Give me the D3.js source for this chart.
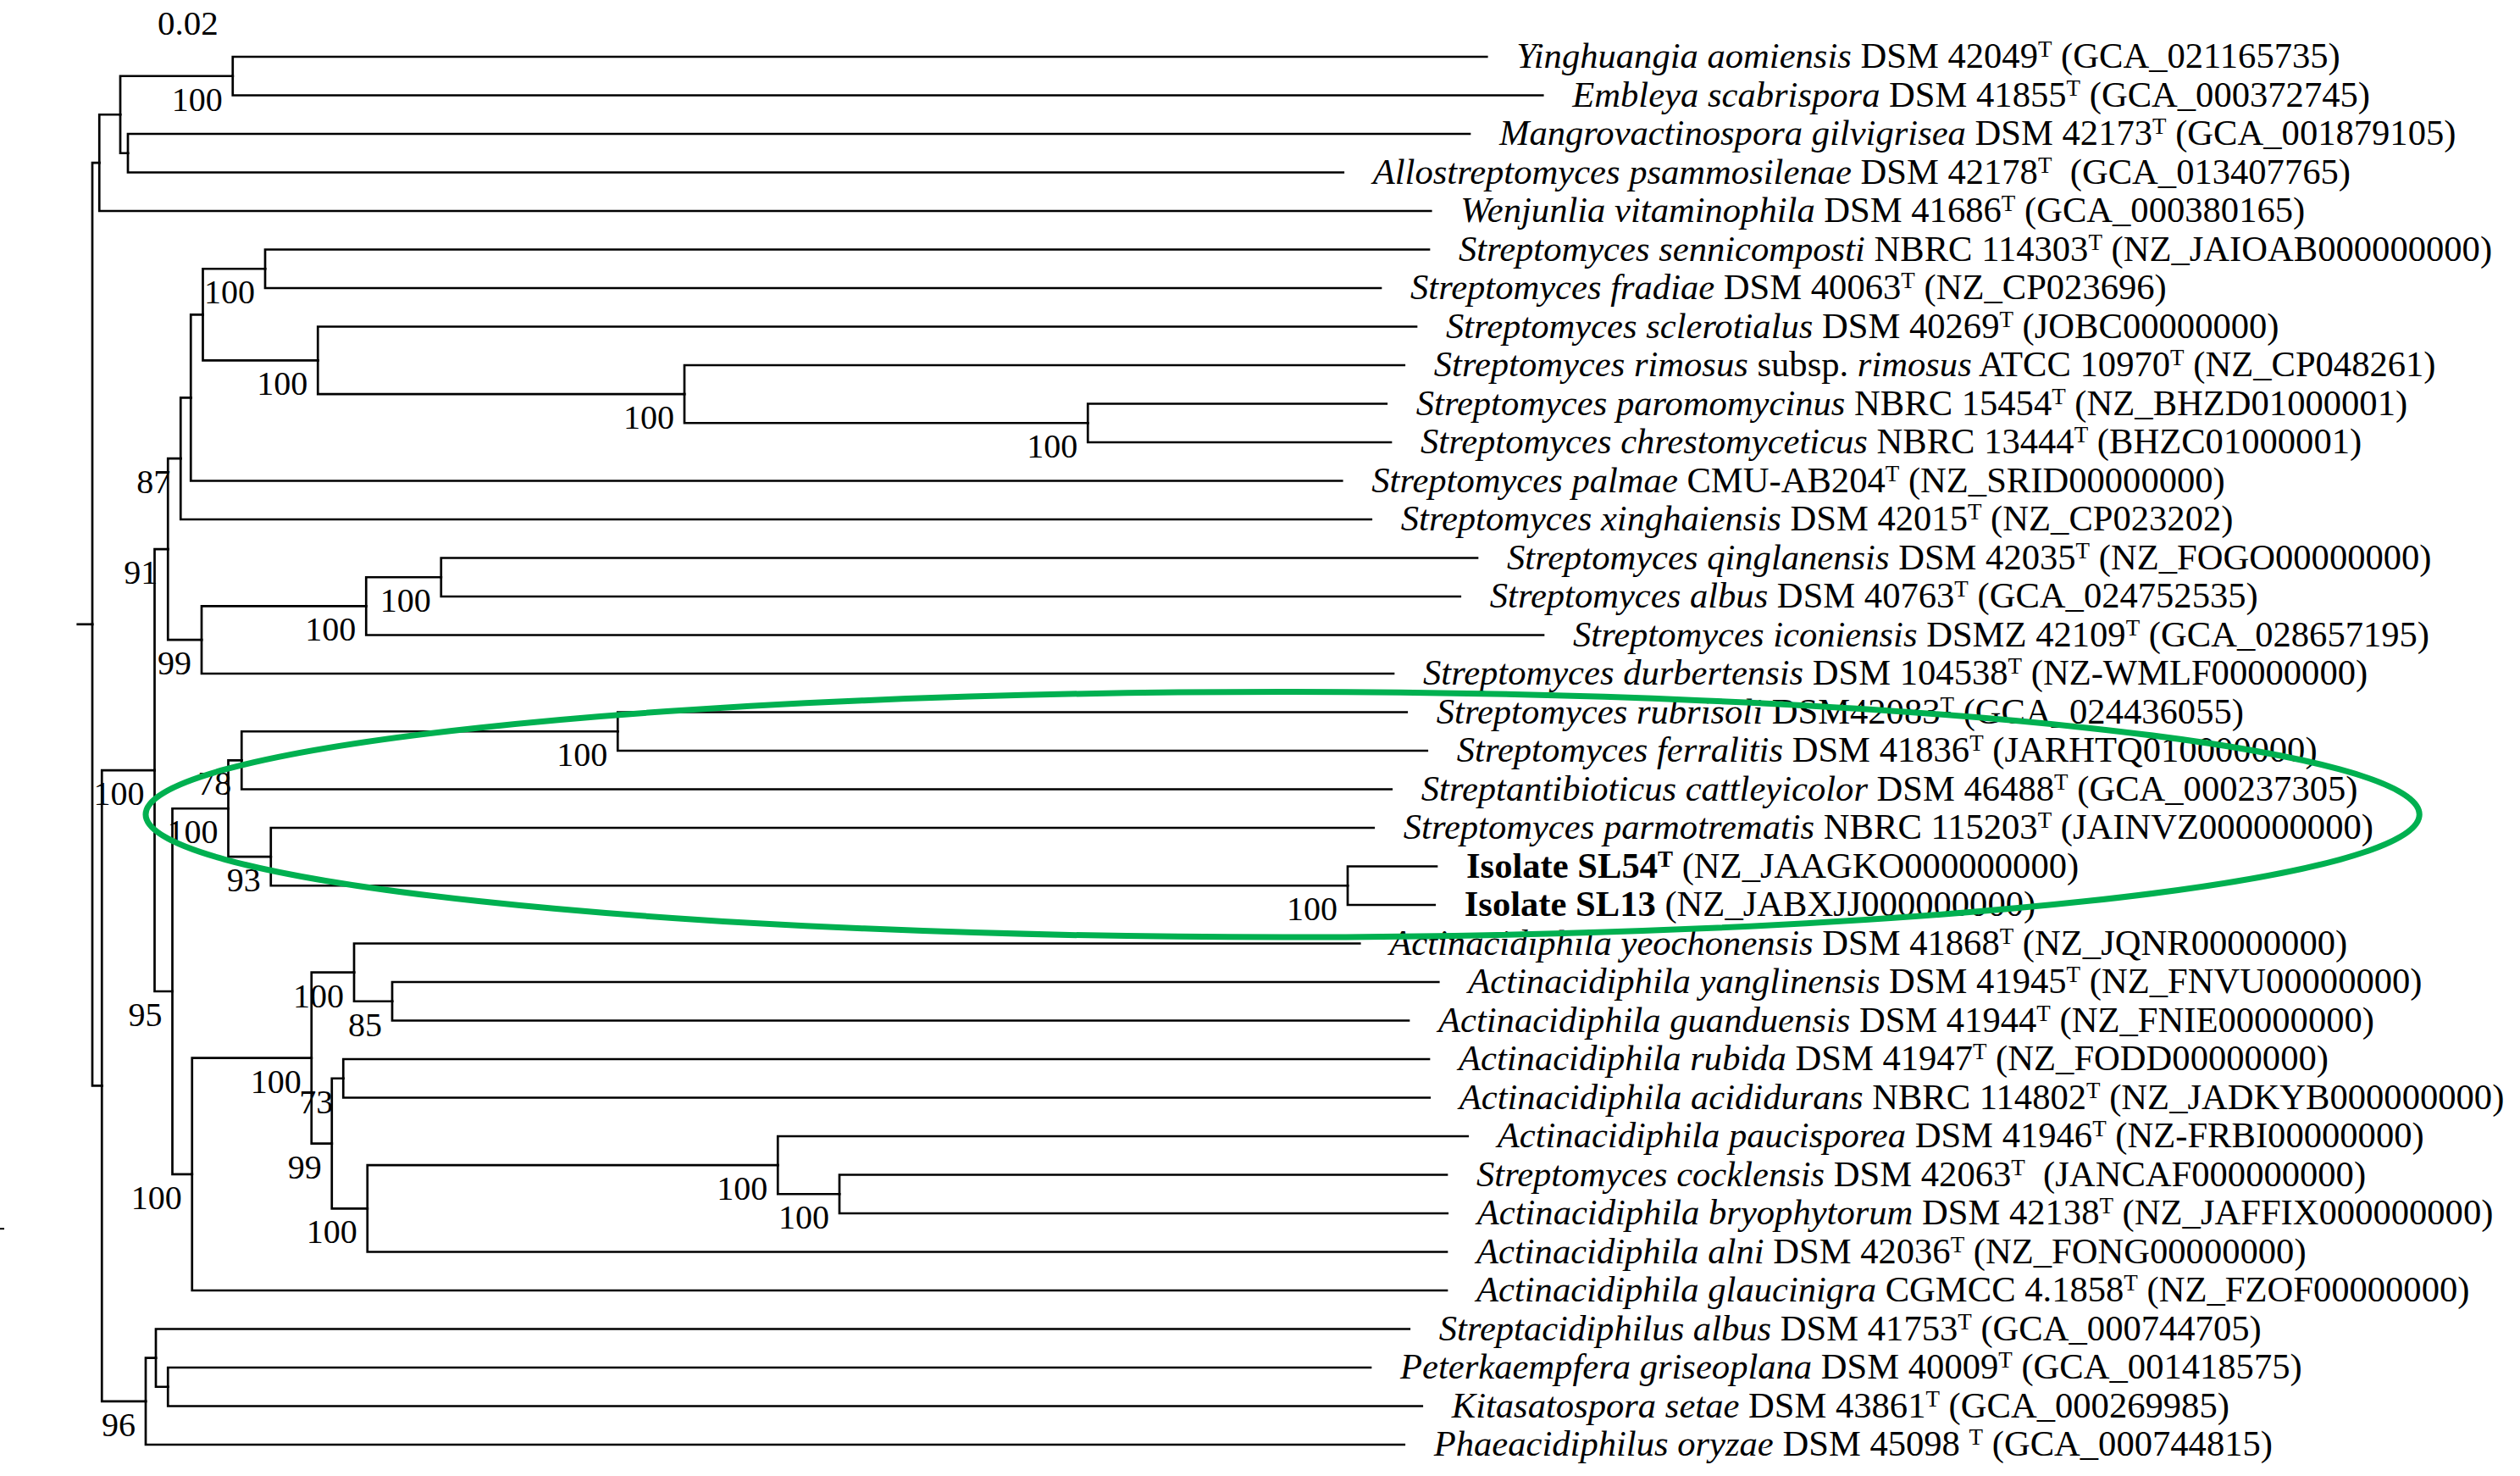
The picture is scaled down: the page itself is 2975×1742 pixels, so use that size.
<!DOCTYPE html>
<html>
<head>
<meta charset="utf-8">
<script src="https://cdn.jsdelivr.net/npm/d3@7"></script>
<style>
  html, body { margin: 0; padding: 0; background: #ffffff; }
</style>
</head>
<body>
<div id="chart"></div>
<script>
// tips, top to bottom
const tipNames = [
  'Yinghuangia aomiensis', 'Embleya scabrispora', 'Mangrovactinospora gilvigrisea',
  'Allostreptomyces psammosilenae', 'Wenjunlia vitaminophila', 'Streptomyces sennicomposti',
  'Streptomyces fradiae', 'Streptomyces sclerotialus', 'Streptomyces rimosus subsp. rimosus',
  'Streptomyces paromomycinus', 'Streptomyces chrestomyceticus', 'Streptomyces palmae',
  'Streptomyces xinghaiensis', 'Streptomyces qinglanensis', 'Streptomyces albus',
  'Streptomyces iconiensis', 'Streptomyces durbertensis', 'Streptomyces rubrisoli',
  'Streptomyces ferralitis', 'Streptantibioticus cattleyicolor', 'Streptomyces parmotrematis',
  'Isolate SL54', 'Isolate SL13', 'Actinacidiphila yeochonensis',
  'Actinacidiphila yanglinensis', 'Actinacidiphila guanduensis', 'Actinacidiphila rubida',
  'Actinacidiphila acididurans', 'Actinacidiphila paucisporea', 'Streptomyces cocklensis',
  'Actinacidiphila bryophytorum', 'Actinacidiphila alni', 'Actinacidiphila glaucinigra',
  'Streptacidiphilus albus', 'Peterkaempfera griseoplana', 'Kitasatospora setae',
  'Phaeacidiphilus oryzae'
];

const strains = [
  'DSM 42049', 'DSM 41855', 'DSM 42173', 'DSM 42178', 'DSM 41686', 'NBRC 114303',
  'DSM 40063', 'DSM 40269', 'ATCC 10970', 'NBRC 15454', 'NBRC 13444', 'CMU-AB204',
  'DSM 42015', 'DSM 42035', 'DSM 40763', 'DSMZ 42109', 'DSM 104538', 'DSM42083',
  'DSM 41836', 'DSM 46488', 'NBRC 115203', '', '', 'DSM 41868',
  'DSM 41945', 'DSM 41944', 'DSM 41947', 'NBRC 114802', 'DSM 41946', 'DSM 42063',
  'DSM 42138', 'DSM 42036', 'CGMCC 4.1858', 'DSM 41753', 'DSM 40009', 'DSM 43861',
  'DSM 45098 '
];

const typeStrain = [
  true, true, true, true, true, true, true, true, true, true, true, true, true,
  true, true, true, true, true, true, true, true, true, false, true, true, true,
  true, true, true, true, true, true, true, true, true, true, true
];

const accessions = [
  '(GCA_021165735)', '(GCA_000372745)', '(GCA_001879105)', ' (GCA_013407765)', '(GCA_000380165)',
  '(NZ_JAIOAB000000000)', '(NZ_CP023696)', '(JOBC00000000)', '(NZ_CP048261)', '(NZ_BHZD01000001)',
  '(BHZC01000001)', '(NZ_SRID00000000)', '(NZ_CP023202)', '(NZ_FOGO00000000)', '(GCA_024752535)',
  '(GCA_028657195)', '(NZ-WMLF00000000)', '(GCA_024436055)', '(JARHTQ010000000)', '(GCA_000237305)',
  '(JAINVZ000000000)', '(NZ_JAAGKO000000000)', '(NZ_JABXJJ000000000)', '(NZ_JQNR00000000)',
  '(NZ_FNVU00000000)', '(NZ_FNIE00000000)', '(NZ_FODD00000000)', '(NZ_JADKYB000000000)',
  '(NZ-FRBI00000000)', ' (JANCAF000000000)', '(NZ_JAFFIX000000000)', '(NZ_FONG00000000)',
  '(NZ_FZOF00000000)', '(GCA_000744705)', '(GCA_001418575)', '(GCA_000269985)', '(GCA_000744815)'
];

// distance from root to each tip (substitutions per site)
const tipDepth = [
  0.2195, 0.2283, 0.2168, 0.1969, 0.2107, 0.2104, 0.2028, 0.2084, 0.2065, 0.2037,
  0.2044, 0.1967, 0.2013, 0.2180, 0.2153, 0.2284, 0.2048, 0.2069, 0.2101, 0.2045,
  0.2017, 0.2116, 0.2113, 0.1995, 0.2119, 0.2072, 0.2104, 0.2105, 0.2165, 0.2132,
  0.2133, 0.2132, 0.2132, 0.2073, 0.2012, 0.2093, 0.2065
];

// internal nodes: id, upper child, lower child (number = tip index), depth, bootstrap
const clades = [
  ['A', 0, 1, 0.0221, 100],
  ['B', 2, 3, 0.0056, null],
  ['C', 'A', 'B', 0.0044, null],
  ['D', 'C', 4, 0.0011, null],
  ['E', 5, 6, 0.0272, 100],
  ['F', 9, 10, 0.1567, 100],
  ['G', 8, 'F', 0.0932, 100],
  ['H', 7, 'G', 0.0355, 100],
  ['I', 'E', 'H', 0.0174, null],
  ['J', 'I', 11, 0.0155, null],
  ['K', 'J', 12, 0.0139, 87],
  ['L', 13, 14, 0.0549, 100],
  ['M', 'L', 15, 0.0431, 100],
  ['N', 'M', 16, 0.0172, 99],
  ['O', 'K', 'N', 0.0119, 91],
  ['P', 17, 18, 0.0827, 100],
  ['Q', 'P', 19, 0.0235, 78],
  ['R', 21, 22, 0.1976, 100],
  ['S', 20, 'R', 0.0281, 93],
  ['T', 'Q', 'S', 0.0214, 100],
  ['U', 24, 25, 0.0472, 85],
  ['V', 23, 'U', 0.0412, 100],
  ['W', 26, 27, 0.0395, 73],
  ['X', 29, 30, 0.1176, 100],
  ['Y', 28, 'X', 0.1079, 100],
  ['Z', 'Y', 31, 0.0433, 100],
  ['AA', 'W', 'Z', 0.0377, 99],
  ['AB', 'V', 'AA', 0.0345, 100],
  ['AC', 'AB', 32, 0.0157, 100],
  ['AD', 'T', 'AC', 0.0126, 95],
  ['AE', 'O', 'AD', 0.0098, 100],
  ['AF', 34, 35, 0.0119, null],
  ['AG', 33, 'AF', 0.0100, null],
  ['AH', 'AG', 36, 0.0084, 96],
  ['AI', 'AE', 'AH', 0.0015, null],
  ['root', 'D', 'AI', 0, null]
];

const rootEdge = 0.0023;
const scaleLabel = '0.02';
// circled clade: first and last tip row, left/right reach in distance units
const highlightRows = [17, 22];
const highlightReach = [0.0084, 0.3663];

// [DIMENSIONS]
const width = 2975;
const height = 1742;
const font = '"Liberation Serif", "Times New Roman", Times, serif';

const svg = d3.select('#chart')
  .append('svg')
  .attr('width', width)
  .attr('height', height)
  .style('background', '#ffffff');

// [SCALES]
const xScale = d3.scaleLinear().domain([0, 0.2]).range([109, 1609]);
const yScale = d3.scaleLinear().domain([0, tipNames.length - 1]).range([67, 1705]);

// [TREE]
const byId = new Map(clades.map(([id, a, b, depth, support]) => [id, { id, kids: [a, b], depth, support }]));
const build = (k) => {
  if (typeof k === 'number') return { tip: k, depth: tipDepth[k] };
  const c = byId.get(k);
  return { id: c.id, depth: c.depth, support: c.support, children: c.kids.map(build) };
};
const root = d3.hierarchy(build('root'));
root.eachAfter((n) => {
  n.px = xScale(n.data.depth);
  n.py = n.children
    ? (n.children[0].py + n.children[n.children.length - 1].py) / 2
    : yScale(n.data.tip);
});

const branches = svg.append('g')
  .attr('fill', 'none')
  .attr('stroke', '#000000')
  .attr('stroke-width', 2.7)
  .attr('stroke-linecap', 'square');

branches.selectAll('path.link')
  .data(root.links())
  .join('path')
  .attr('class', 'link')
  .attr('d', (l) => `M${l.source.px},${l.source.py}V${l.target.py}H${l.target.px}`);

branches.append('path')
  .attr('d', `M${xScale(-rootEdge)},${root.py}H${root.px}`);

// small stray tick at the left edge
branches.append('path').attr('d', `M0,${yScale(30.4)}H4`).attr('stroke-width', 2);

// [BOOTSTRAP VALUES]
svg.append('g')
  .attr('font-family', font)
  .attr('font-size', 40)
  .attr('text-anchor', 'end')
  .selectAll('text')
  .data(root.descendants().filter((d) => d.data.support != null))
  .join('text')
  .attr('x', (d) => d.px - 12)
  .attr('y', (d) => d.py + 41)
  .text((d) => d.data.support);

// [TIP LABELS]
const labels = svg.append('g')
  .attr('font-family', font)
  .attr('font-size', 42.6)
  .attr('fill', '#000000')
  .selectAll('text')
  .data(root.leaves())
  .join('text')
  .attr('xml:space', 'preserve')
  .style('white-space', 'pre')
  .attr('x', (d) => xScale(tipDepth[d.data.tip]) + 35)
  .attr('y', (d) => d.py + 13);

labels.each(function (d) {
  const i = d.data.tip;
  const t = d3.select(this);
  const name = tipNames[i];
  const isolate = name.startsWith('Isolate');
  if (isolate) {
    t.append('tspan').attr('font-weight', 'bold').text(name);
  } else {
    const parts = name.split(' subsp. ');
    parts.forEach((p, k) => {
      if (k > 0) t.append('tspan').text(' subsp. ');
      t.append('tspan').attr('font-style', 'italic').text(p);
    });
  }
  if (strains[i]) t.append('tspan').text(' ' + strains[i]);
  let shift = 0;
  if (typeStrain[i]) {
    t.append('tspan')
      .attr('font-size', 27)
      .attr('dy', -13)
      .attr('font-weight', isolate ? 'bold' : null)
      .text('T');
    shift = 13;
  }
  t.append('tspan').attr('dy', shift).text(' ' + accessions[i]);
});

// [SCALE LABEL]
svg.append('text')
  .attr('font-family', font)
  .attr('font-size', 41)
  .attr('x', 186)
  .attr('y', 41)
  .text(scaleLabel);

// [HIGHLIGHT]
const hy0 = yScale(highlightRows[0]);
const hy1 = yScale(highlightRows[1]);
const hx0 = xScale(highlightReach[0]);
const hx1 = xScale(highlightReach[1]);
svg.append('ellipse')
  .attr('cx', (hx0 + hx1) / 2)
  .attr('cy', (hy0 + hy1) / 2 + 7)
  .attr('rx', (hx1 - hx0) / 2)
  .attr('ry', (hy1 - hy0) / 2 + 31)
  .attr('fill', 'none')
  .attr('stroke', '#00b050')
  .attr('stroke-width', 7);
</script>
</body>
</html>
